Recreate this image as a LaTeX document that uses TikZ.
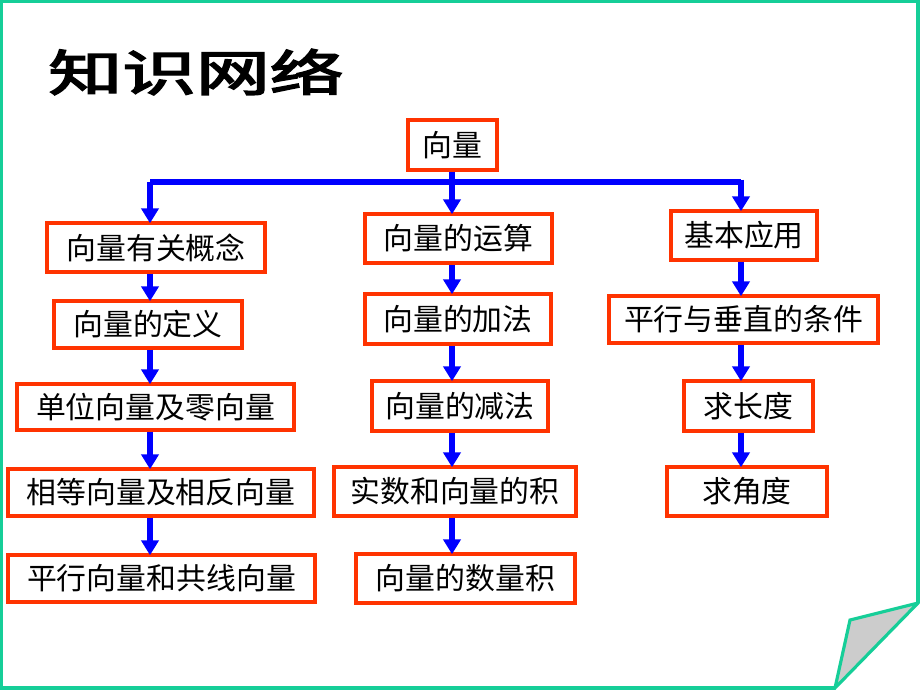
\documentclass[tikz,border=0pt]{standalone}
\usepackage{fontspec}
\usepackage{graphicx}
\usepackage{tikz}
\usetikzlibrary{arrows.meta}
\newfontfamily\cjk{Noto Sans CJK SC}
\newfontfamily\titlefont[FakeBold=3]{Noto Sans CJK SC}
\definecolor{framegreen}{RGB}{22,206,152}
\definecolor{boxred}{RGB}{255,51,0}
\definecolor{curlgray}{RGB}{204,204,204}

\tikzset{
  box/.style={draw=boxred, line width=1.8pt, fill=white, inner sep=0pt,
    font=\cjk\fontsize{17pt}{20pt}\selectfont},
  link/.style={draw=blue, line width=2.9pt},
  linkarrow/.style={link, -{Triangle[length=8.5pt,width=9.8pt]}, shorten >=-1pt}
}

\begin{document}
\begin{tikzpicture}[x=0.02cm,y=-0.02cm]
\useasboundingbox (0,0) rectangle (920,690);

\draw[framegreen, line width=1.8pt] (918,603) -- (918,1) -- (1,1) -- (1,688) -- (835,688);
\draw[framegreen, fill=curlgray, line width=1.8pt, line join=miter] (918,603) -- (850,620) -- (835,688) -- cycle;

\node at (196,72) {\scalebox{1.5}[1]{\titlefont\fontsize{28pt}{30pt}\selectfont 知识网络}};

\node[box, minimum width=1.78cm, minimum height=1.0cm] (root) at (452.5,145) {向量};

\node[box, minimum width=4.36cm, minimum height=0.98cm] (gainian) at (156,247.5) {向量有关概念};
\node[box, minimum width=3.76cm, minimum height=0.94cm] (dingyi) at (148,324.5) {向量的定义};
\node[box, minimum width=5.54cm, minimum height=0.92cm] (danwei) at (155.5,407) {单位向量及零向量};
\node[box, minimum width=6.12cm, minimum height=0.94cm] (xiangdeng) at (161,492.5) {相等向量及相反向量};
\node[box, minimum width=6.14cm, minimum height=0.94cm] (pinghang) at (161.5,578.5) {平行向量和共线向量};

\node[box, minimum width=3.74cm, minimum height=0.98cm] (yunsuan) at (458.5,238.5) {向量的运算};
\node[box, minimum width=3.72cm, minimum height=1.0cm] (jiafa) at (458,319) {向量的加法};
\node[box, minimum width=3.52cm, minimum height=1.0cm] (jianfa) at (460,406) {向量的减法};
\node[box, minimum width=4.84cm, minimum height=0.98cm] (shuche) at (455,491.5) {实数和向量的积};
\node[box, minimum width=4.38cm, minimum height=0.98cm] (shuliangji) at (465.5,578.5) {向量的数量积};

\node[box, minimum width=2.92cm, minimum height=0.98cm] (yingyong) at (744,235.5) {基本应用};
\node[box, minimum width=5.38cm, minimum height=0.94cm] (tiaojian) at (743.5,319.5) {平行与垂直的条件};
\node[box, minimum width=2.58cm, minimum height=1.0cm] (changdu) at (748.5,406) {求长度};
\node[box, minimum width=3.2cm, minimum height=0.98cm] (jiaodu) at (747,491.5) {求角度};

\coordinate (colL) at (150,182);
\coordinate (colM) at (452,182);
\coordinate (colR) at (741,182);

\draw[link] (colL) -- (colR);
\draw[linkarrow] (root.south -| colM) -- (yunsuan.north -| colM);
\draw[linkarrow] (colL) -- (gainian.north -| colL);
\draw[linkarrow] ([yshift=1.4pt]colR) -- (yingyong.north -| colR);

\draw[linkarrow] (gainian.south -| colL) -- (dingyi.north -| colL);
\draw[linkarrow] (dingyi.south -| colL) -- (danwei.north -| colL);
\draw[linkarrow] (danwei.south -| colL) -- (xiangdeng.north -| colL);
\draw[linkarrow] (xiangdeng.south -| colL) -- (pinghang.north -| colL);

\draw[linkarrow] (yunsuan.south -| colM) -- (jiafa.north -| colM);
\draw[linkarrow] (jiafa.south -| colM) -- (jianfa.north -| colM);
\draw[linkarrow] (jianfa.south -| colM) -- (shuche.north -| colM);
\draw[linkarrow] (shuche.south -| colM) -- (shuliangji.north -| colM);

\draw[linkarrow] (yingyong.south -| colR) -- (tiaojian.north -| colR);
\draw[linkarrow] (tiaojian.south -| colR) -- (changdu.north -| colR);
\draw[linkarrow] (changdu.south -| colR) -- (jiaodu.north -| colR);

\end{tikzpicture}
\end{document}
